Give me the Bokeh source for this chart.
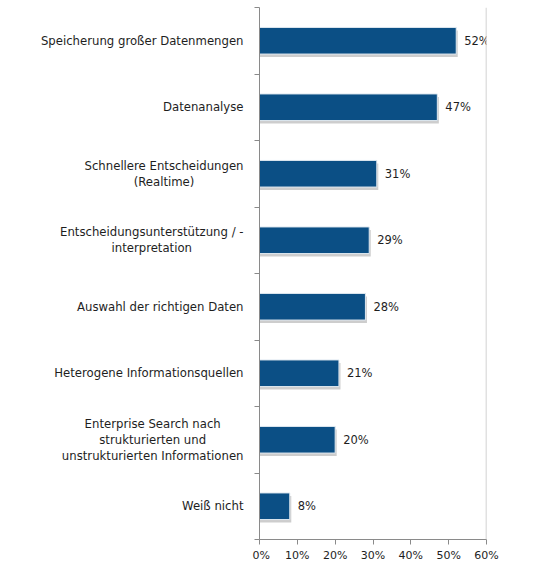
from bokeh.plotting import figure
from bokeh.layouts import row
from bokeh.core.properties import value
from bokeh.models import ColumnDataSource, Range1d, FixedTicker, Label, LabelSet, Span, NumeralTickFormatter
from bokeh.transform import dodge
from bokeh.embed import file_html
from bokeh.resources import INLINE

categories = [
    "Speicherung großer Datenmengen",
    "Datenanalyse",
    "Schnellere Entscheidungen\n(Realtime)",
    "Entscheidungsunterstützung / -\ninterpretation",
    "Auswahl der richtigen Daten",
    "Heterogene Informationsquellen",
    "Enterprise Search nach\nstrukturierten und\nunstrukturierten Informationen",
    "Weiß nicht",
]
values = [52, 47, 31, 29, 28, 21, 20, 8]
x_ticks = [0, 10, 20, 30, 40, 50, 60]

positions = [i + 0.5 for i in range(len(categories))]
source = ColumnDataSource(dict(
    y=positions,
    v=[x / 100 for x in values],
    lbl=[f"{x}%" for x in values],
))

FONT = "DejaVu Sans"
TEXT_COLOR = "#1e1e1e"
y_range = Range1d(len(categories), 0)

# left panel with the category labels
lab = figure(
    frame_width=252, frame_height=532, x_range=Range1d(0, 1), y_range=y_range,
    output_backend="svg", toolbar_location=None,
    x_axis_location=None, y_axis_location=None,
    min_border_left=0, min_border_right=0, min_border_top=7, min_border_bottom=28,
)
lab.outline_line_color = None
lab.xgrid.visible = False
lab.ygrid.visible = False
for pos, cat in zip(positions, categories):
    lab.add_layout(Label(x=1, y=pos, text=cat, x_offset=-9, anchor="center_right",
                         text_align="center", text_baseline="middle",
                         text_font=FONT, text_font_size="11.7px", text_color=TEXT_COLOR,
                         text_line_height=1.15))

# chart
p = figure(
    frame_width=227, frame_height=532,
    x_range=Range1d(0, 0.6), y_range=y_range,
    output_backend="svg", toolbar_location=None,
    min_border_left=7, min_border_right=40, min_border_top=7, min_border_bottom=18,
)
p.outline_line_color = None
p.xgrid.visible = False
p.ygrid.visible = False

p.hbar(y=dodge("y", 0.045), left=0, right=dodge("v", 0.004), height=0.4, source=source,
       fill_color="#b8b8b8", fill_alpha=0.7, line_color=None)
p.hbar(y="y", left=0, right="v", height=0.4, source=source,
       fill_color="#0b4f85", line_color="#dfe8f0", line_width=1)

p.add_layout(LabelSet(x="v", y="y", text="lbl", source=source, x_offset=8,
                      text_align="left", text_baseline="middle",
                      text_font=value(FONT), text_font_size=value("11.5px"),
                      text_color=TEXT_COLOR))

p.add_layout(Span(location=0.6, dimension="height", line_color="#c4c4c4", line_width=1.5))

p.xaxis.ticker = FixedTicker(ticks=[t / 100 for t in x_ticks])
p.xaxis.formatter = NumeralTickFormatter(format="0%")
p.xaxis.axis_line_color = "#8a8a8a"
p.xaxis.major_tick_line_color = "#8a8a8a"
p.xaxis.major_tick_out = 5
p.xaxis.major_tick_in = 0
p.xaxis.minor_tick_line_color = None
p.xaxis.major_label_text_font = FONT
p.xaxis.major_label_text_font_size = "11px"
p.xaxis.major_label_text_color = TEXT_COLOR
p.xaxis.major_label_standoff = 4

p.yaxis.ticker = FixedTicker(ticks=list(range(len(categories) + 1)))
p.yaxis.major_label_text_font_size = "0px"
p.yaxis.major_label_text_alpha = 0
p.yaxis.axis_line_color = "#8a8a8a"
p.yaxis.major_tick_line_color = "#8a8a8a"
p.yaxis.major_tick_out = 5
p.yaxis.major_tick_in = 0
p.yaxis.minor_tick_line_color = None
p.yaxis.major_label_standoff = 0

layout = row(lab, p, spacing=0)
open("out.html", "w").write(file_html(layout, INLINE))
